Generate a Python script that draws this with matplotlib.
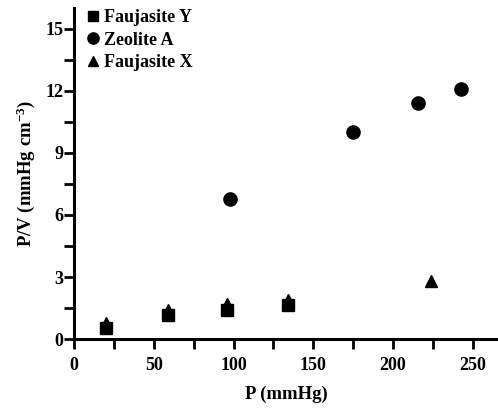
import numpy as np
import matplotlib
matplotlib.use('Agg')
import matplotlib.pyplot as plt
from matplotlib.ticker import MultipleLocator

plt.rcParams['font.family'] = ['Liberation Serif', 'DejaVu Serif']
plt.rcParams['font.weight'] = 'bold'
plt.rcParams['mathtext.fontset'] = 'custom'
plt.rcParams['mathtext.rm'] = 'Liberation Serif:bold'
plt.rcParams['mathtext.default'] = 'rm'

# Faujasite Y
p_y = [20, 59, 96, 134]
pv_y = [0.52, 1.16, 1.40, 1.64]
# Zeolite A
p_a = [98, 175, 216, 243]
pv_a = [6.75, 10.0, 11.4, 12.1]
# Faujasite X
p_x = [20, 59, 96, 134, 224]
pv_x = [0.80, 1.42, 1.69, 1.90, 2.8]

fig = plt.figure(figsize=(4.98, 4.08), dpi=100)
ax = fig.add_axes([0.149, 0.169, 0.851, 0.811])

ax.plot(p_x, pv_x, '^', color='black', markersize=8, label='Faujasite X', zorder=3)
ax.plot(p_y, pv_y, 's', color='black', markersize=8, label='Faujasite Y', zorder=4)
ax.plot(p_a, pv_a, 'o', color='black', markersize=9.5, label='Zeolite A', zorder=4)

ax.set_xlim(0, 266)
ax.set_ylim(0, 16)
ax.xaxis.set_major_locator(MultipleLocator(50))
ax.xaxis.set_minor_locator(MultipleLocator(25))
ax.yaxis.set_major_locator(MultipleLocator(3))
ax.yaxis.set_minor_locator(MultipleLocator(1.5))

for s in ['top', 'right']:
    ax.spines[s].set_visible(False)
for s in ['left', 'bottom']:
    ax.spines[s].set_linewidth(2.2)
ax.tick_params(which='both', direction='out', width=2, length=7, labelsize=13)
ax.tick_params(axis='x', pad=6)
ax.tick_params(axis='y', pad=1)

ax.set_xlabel('P (mmHg)', fontsize=13.5, fontweight='bold', labelpad=8)
ax.set_ylabel('P/V (mmHg cm$^{-3}$)', fontsize=13.5, fontweight='bold', labelpad=6)

handles, labels = ax.get_legend_handles_labels()
order = [1, 2, 0]
ax.legend([handles[i] for i in order], [labels[i] for i in order],
          loc='upper left', bbox_to_anchor=(-0.01, 1.035), frameon=False,
          fontsize=13, handletextpad=0.1, handlelength=1.1,
          labelspacing=0.3, borderaxespad=0.3, markerscale=0.85)

fig.savefig('out.png', dpi=100)
